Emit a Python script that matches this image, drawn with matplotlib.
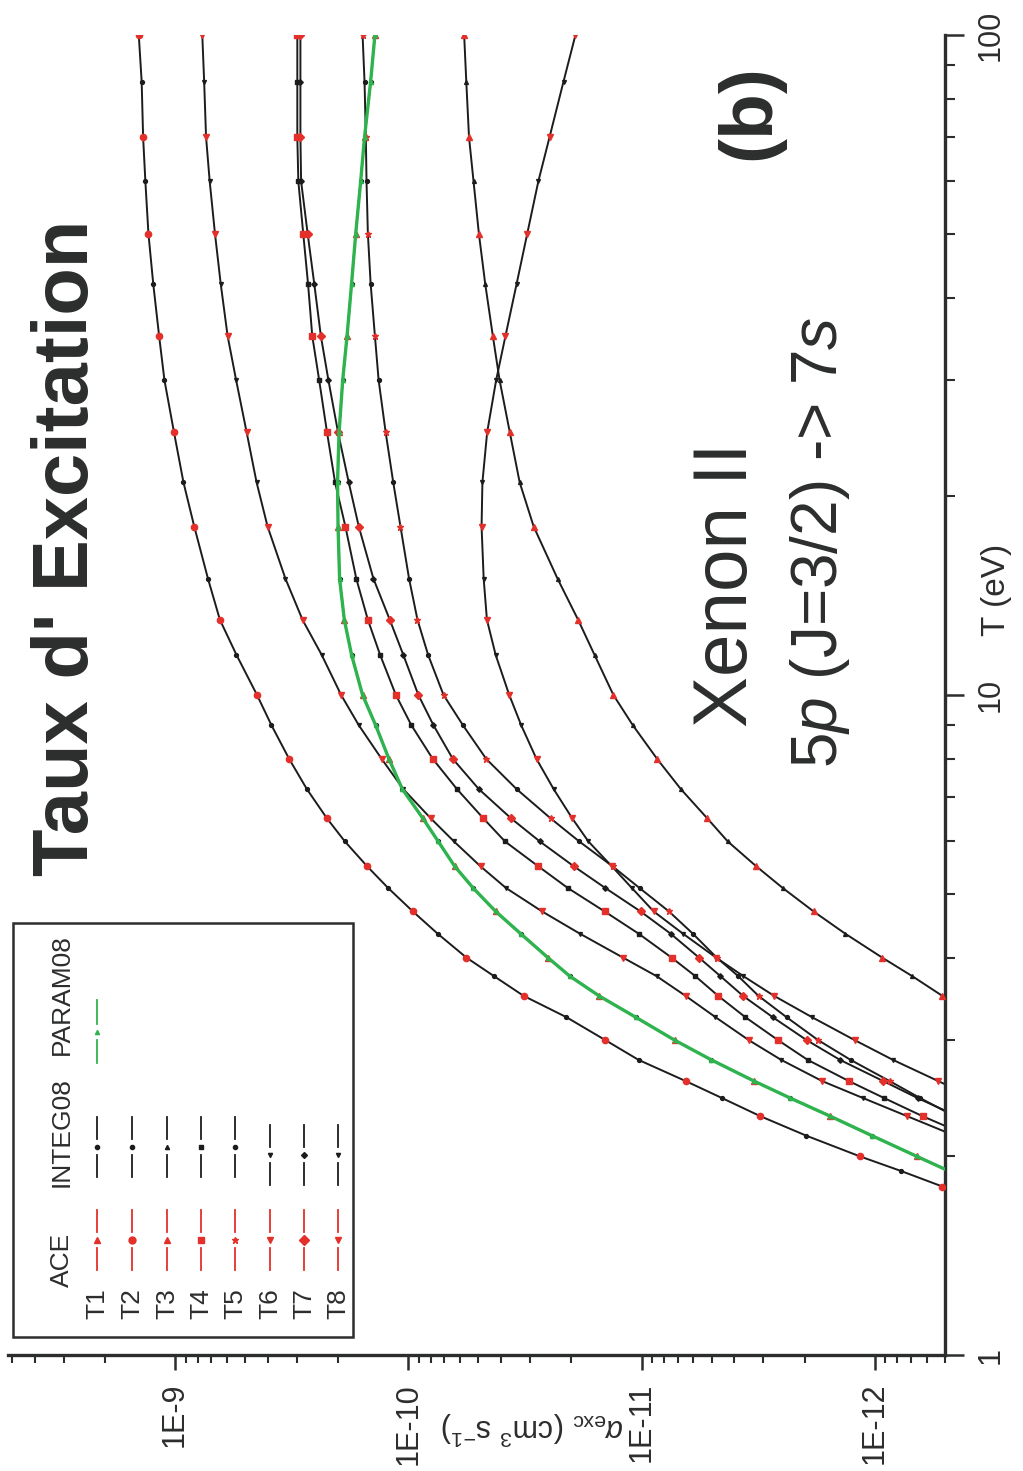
import numpy as np
import matplotlib.pyplot as plt
from matplotlib.lines import Line2D
from matplotlib.patches import Rectangle
from matplotlib.ticker import FixedLocator, LogLocator, NullFormatter

plt.rcParams['font.family'] = ['Liberation Sans', 'DejaVu Sans']
plt.rcParams['mathtext.fontset'] = 'custom'
plt.rcParams['mathtext.rm'] = 'Liberation Sans'
plt.rcParams['mathtext.it'] = 'Liberation Sans:italic'

nan = np.nan

# electron temperature (eV)
temp = [1.6, 1.7, 1.8, 1.9, 2.0, 2.15, 2.3, 2.45, 2.6, 2.8, 3.0, 3.25, 3.5, 3.75,
        4.0, 4.35, 4.7, 5.1, 5.5, 6.0, 6.5, 7.2, 8.0, 9.0, 10, 11.5, 13, 15, 18,
        21, 25, 30, 35, 42, 50, 60, 70, 85, 100]

# excitation rate coefficients (cm^3 s^-1); ACE and INTEG08 coincide
rate_t1 = [1.71e-13, 2.44e-13, 3.52e-13, 4.81e-13, 6.61e-13, 1.03e-12, 1.55e-12,
           2.30e-12, 3.29e-12, 5.02e-12, 7.22e-12, 1.06e-11, 1.52e-11, 2.03e-11,
           2.52e-11, 3.30e-11, 4.22e-11, 5.27e-11, 6.32e-11, 7.44e-11, 8.65e-11,
           1.06e-10, 1.21e-10, 1.38e-10, 1.57e-10, 1.75e-10, 1.88e-10, 1.97e-10,
           2.00e-10, 2.01e-10, 1.98e-10, 1.91e-10, 1.83e-10, 1.75e-10, 1.68e-10,
           1.60e-10, 1.54e-10, 1.45e-10, 1.39e-10]
rate_t2 = [2.10e-13, 3.28e-13, 5.13e-13, 7.71e-13, 1.16e-12, 1.97e-12, 3.09e-12,
           4.51e-12, 6.46e-12, 1.03e-11, 1.43e-11, 2.10e-11, 3.20e-11, 4.29e-11,
           5.63e-11, 7.49e-11, 9.56e-11, 1.22e-10, 1.50e-10, 1.87e-10, 2.23e-10,
           2.72e-10, 3.24e-10, 3.86e-10, 4.45e-10, 5.45e-10, 6.42e-10, 7.22e-10,
           8.27e-10, 9.20e-10, 1.01e-9, 1.11e-9, 1.17e-9, 1.24e-9, 1.30e-9,
           1.34e-9, 1.37e-9, 1.39e-9, 1.43e-9]
rate_t3 = [nan, nan, nan, nan, nan, nan, nan, nan, nan, nan, 2.51e-13, 3.62e-13,
           5.13e-13, 6.91e-13, 9.29e-13, 1.34e-12, 1.83e-12, 2.48e-12, 3.22e-12,
           4.27e-12, 5.22e-12, 6.78e-12, 8.57e-12, 1.09e-11, 1.32e-11, 1.59e-11,
           1.87e-11, 2.29e-11, 2.90e-11, 3.33e-11, 3.67e-11, 4.06e-11, 4.34e-11,
           4.68e-11, 4.98e-11, 5.25e-11, 5.49e-11, 5.64e-11, 5.76e-11]
rate_t4 = [nan, nan, nan, nan, 2.32e-13, 4.00e-13, 6.23e-13, 9.10e-13, 1.29e-12,
           1.94e-12, 2.60e-12, 3.59e-12, 4.69e-12, 5.88e-12, 7.43e-12, 1.03e-11,
           1.44e-11, 2.07e-11, 2.77e-11, 3.85e-11, 4.76e-11, 6.18e-11, 7.85e-11,
           9.70e-11, 1.13e-10, 1.32e-10, 1.49e-10, 1.67e-10, 1.86e-10, 2.06e-10,
           2.23e-10, 2.41e-10, 2.58e-10, 2.69e-10, 2.82e-10, 2.96e-10, 2.99e-10,
           2.99e-10, 2.99e-10]
rate_t5 = [nan, nan, nan, nan, nan, 2.94e-13, 4.55e-13, 6.38e-13, 8.63e-13,
           1.27e-12, 1.75e-12, 2.39e-12, 3.15e-12, 3.85e-12, 4.76e-12, 6.03e-12,
           7.63e-12, 1.02e-11, 1.33e-11, 1.85e-11, 2.45e-11, 3.43e-11, 4.63e-11,
           5.83e-11, 7.06e-11, 8.22e-11, 9.13e-11, 9.92e-11, 1.08e-10, 1.16e-10,
           1.25e-10, 1.34e-10, 1.39e-10, 1.45e-10, 1.49e-10, 1.51e-10, 1.52e-10,
           1.54e-10, 1.57e-10]
rate_t6 = [nan, nan, nan, nan, nan, nan, 2.56e-13, 3.73e-13, 5.34e-13, 8.36e-13,
           1.22e-12, 1.86e-12, 2.70e-12, 3.66e-12, 4.79e-12, 6.65e-12, 8.87e-12,
           1.10e-11, 1.34e-11, 1.69e-11, 1.98e-11, 2.38e-11, 2.82e-11, 3.28e-11,
           3.69e-11, 4.22e-11, 4.60e-11, 4.75e-11, 4.85e-11, 4.81e-11, 4.59e-11,
           4.20e-11, 3.83e-11, 3.43e-11, 3.09e-11, 2.77e-11, 2.48e-11, 2.16e-11,
           1.92e-11]
rate_t7 = [nan, nan, nan, nan, nan, 2.83e-13, 4.42e-13, 6.54e-13, 9.19e-13,
           1.41e-12, 1.96e-12, 2.74e-12, 3.67e-12, 4.59e-12, 5.67e-12, 7.51e-12,
           1.01e-11, 1.43e-11, 1.95e-11, 2.73e-11, 3.62e-11, 4.98e-11, 6.44e-11,
           7.80e-11, 9.05e-11, 1.05e-10, 1.20e-10, 1.41e-10, 1.63e-10, 1.80e-10,
           2.00e-10, 2.20e-10, 2.37e-10, 2.53e-10, 2.70e-10, 2.88e-10, 2.90e-10,
           2.90e-10, 2.90e-10]
rate_t8 = [nan, nan, nan, nan, 2.69e-13, 4.55e-13, 7.25e-13, 1.12e-12, 1.68e-12,
           2.52e-12, 3.47e-12, 4.82e-12, 6.47e-12, 8.62e-12, 1.20e-11, 1.84e-11,
           2.67e-11, 3.81e-11, 4.90e-11, 6.37e-11, 8.00e-11, 1.05e-10, 1.30e-10,
           1.63e-10, 1.94e-10, 2.35e-10, 2.84e-10, 3.36e-10, 4.01e-10, 4.47e-10,
           4.93e-10, 5.47e-10, 5.95e-10, 6.37e-10, 6.74e-10, 7.10e-10, 7.36e-10,
           7.50e-10, 7.64e-10]
# PARAM08 fit (follows T1)
param08 = rate_t1

labels = ['T1', 'T2', 'T3', 'T4', 'T5', 'T6', 'T7', 'T8']
rates = [rate_t1, rate_t2, rate_t3, rate_t4, rate_t5, rate_t6, rate_t7, rate_t8]
ace_marks = ['^', 'o', '^', 's', '*', 'v', 'D', 'v']
integ_marks = ['o', 'o', '^', 's', 'o', 'v', 'D', 'v']

RED = '#e3302b'
GREEN = '#2fb34e'
INK = '#2b2e2c'

W, H = 1023, 1471
fig = plt.figure(figsize=(W / 100, H / 100), dpi=100)
ax = fig.add_axes([8 / W, 1 - 1355 / H, 937 / W, 1320 / H])


def fx(x):
    return x / W


def fy(y):
    return 1 - y / H


for lab, r, am, im in zip(labels, rates, ace_marks, integ_marks):
    ax.plot(r, temp, '-', color='#1c1c1c', lw=1.4, marker=im, ms=2.8,
            markevery=(1, 2), zorder=2)
    ax.plot(r, temp, linestyle='none', marker=am, color=RED, ms=4.5,
            markevery=(0, 2), zorder=3)
ax.plot(param08, temp, color=GREEN, lw=2.4, marker='^', ms=3, zorder=4)

ax.set_xscale('log')
ax.set_yscale('log')
ax.set_xlim(5.2e-9, 5e-13)
ax.set_ylim(1, 100)

for s in ['top', 'left']:
    ax.spines[s].set_visible(False)
for s in ['bottom', 'right']:
    ax.spines[s].set_linewidth(2.4)
    ax.spines[s].set_color(INK)

ax.yaxis.tick_right()
ax.xaxis.set_major_locator(FixedLocator([1e-9, 1e-10, 1e-11, 1e-12]))
ax.set_xticklabels(['1E-9', '1E-10', '1E-11', '1E-12'])
ax.xaxis.set_minor_locator(LogLocator(base=10, subs=np.arange(2, 10)))
ax.xaxis.set_minor_formatter(NullFormatter())
ax.yaxis.set_major_locator(FixedLocator([1, 10, 100]))
ax.set_yticklabels(['1', '10', '100'])
ax.yaxis.set_minor_locator(LogLocator(base=10, subs=np.arange(2, 10)))
ax.yaxis.set_minor_formatter(NullFormatter())

ax.tick_params(axis='x', which='major', direction='out', length=11, width=1.8,
               pad=9, labelsize=22, labelrotation=90, colors=INK)
ax.tick_params(axis='x', which='minor', direction='out', length=6, width=1.5, colors=INK)
ax.tick_params(axis='y', which='major', direction='out', length=14, width=1.8,
               pad=8, labelsize=22, labelrotation=90, colors=INK)
ax.tick_params(axis='y', which='minor', direction='out', length=7, width=1.5, colors=INK)
for t in ax.get_yticklabels():
    t.set_va('center')

# axis titles
fig.text(fx(997), fy(590), 'T (eV)', rotation=90, fontsize=24, color=INK,
         ha='center', va='center')
fig.text(fx(532), fy(1428), r'$\alpha_{\rm exc}$ (cm$^{3}$ s$^{-1}$)', rotation=180,
         fontsize=22, color=INK, ha='center', va='center')

# annotations
fig.text(fx(68), fy(548), "Taux d' Excitation", rotation=90, fontsize=56,
         fontweight='bold', color=INK, ha='center', va='center')
fig.text(fx(750), fy(112), '(b)', rotation=90, fontsize=54, fontweight='bold',
         color=INK, ha='center', va='center')
fig.text(fx(727), fy(585), 'Xenon II', rotation=90, fontsize=55, color=INK,
         ha='center', va='center')
fig.text(fx(820), fy(542), r'5$\it{p}$ (J=3/2) -> 7$\it{s}$', rotation=90,
         fontsize=46, color=INK, ha='center', va='center')

# legend (drawn by hand, rotated layout)
fig.add_artist(Rectangle((fx(13), fy(1337)), 340 / W, 414 / H, transform=fig.transFigure,
                         fill=False, lw=1.8, ec=INK))
for txt, y in [('ACE', 1260), ('INTEG08', 1132), ('PARAM08', 995)]:
    fig.text(fx(62), fy(y), txt, rotation=90, fontsize=19, color=INK,
             ha='center', va='center')

row_x = [97, 132, 167, 201, 235, 270, 304, 338]


def sample(x, y0, y1, ym, color, marker, ms):
    for a, b in [(y0, ym - 8), (ym + 8, y1)]:
        fig.add_artist(Line2D([fx(x), fx(x)], [fy(a), fy(b)], transform=fig.transFigure,
                              color=color, lw=1.3))
    fig.add_artist(Line2D([fx(x)], [fy(ym)], transform=fig.transFigure, color=color,
                          marker=marker, ms=ms, linestyle='none'))


for i, (lab, am, im) in enumerate(zip(labels, ace_marks, integ_marks)):
    x = row_x[i]
    fig.text(fx(x), fy(1304), lab, rotation=90, fontsize=19, color=INK,
             ha='center', va='center')
    sample(x, 1210, 1270, 1240, RED, am, 5)
    off = 8 if i >= 5 else 0
    sample(x, 1117 + off, 1177 + off, 1147 + off, '#1c1c1c', im, 3)
sample(row_x[0], 1000, 1063, 1032, GREEN, '^', 3)

fig.savefig('out.png', dpi=100)
